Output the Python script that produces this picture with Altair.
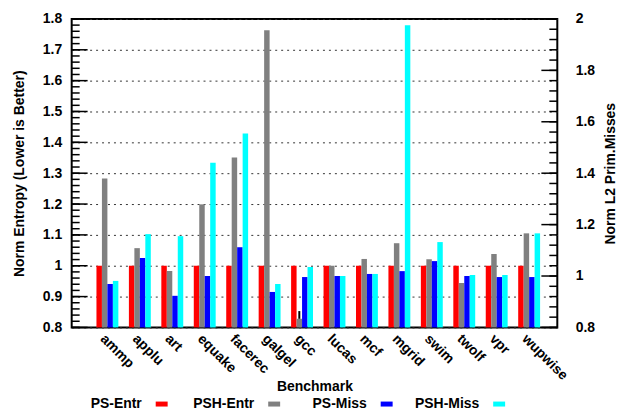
import altair as alt
import pandas as pd

benchmarks = ["ammp", "applu", "art", "equake", "facerec", "galgel", "gcc",
              "lucas", "mcf", "mgrid", "swim", "twolf", "vpr", "wupwise"]
series = ["PS-Entr", "PSH-Entr", "PS-Miss", "PSH-Miss"]
colors = ["#ff0000", "#808080", "#0000ff", "#00ffff"]

ps_entr = [1.0, 1.0, 1.0, 1.0, 1.0, 1.0, 1.0, 1.0, 1.0, 1.0, 1.0, 1.0, 1.0, 1.0]
psh_entr = [1.283, 1.057, 0.983, 1.199, 1.351, 1.763, 0.828, 1.0, 1.022, 1.073, 1.021, 0.944, 1.038, 1.105]
ps_miss = [0.969, 1.070, 0.923, 1.0, 1.112, 0.938, 0.996, 1.0, 1.008, 1.019, 1.058, 1.0, 0.996, 0.996]
psh_miss = [0.981, 1.163, 1.155, 1.441, 1.554, 0.969, 1.035, 1.0, 1.008, 1.975, 1.132, 1.004, 1.004, 1.166]

# small black mark on top of gcc's PSH-Entr bar
gcc_mark = [0.828, 0.853]

left_domain = [0.8, 1.8]
right_domain = [0.8, 2.0]
left_major = [0.8, 0.9, 1.0, 1.1, 1.2, 1.3, 1.4, 1.5, 1.6, 1.7, 1.8]
left_minor = [round(0.8 + 0.02 * i, 2) for i in range(51)]
right_major = [0.8, 1.0, 1.2, 1.4, 1.6, 1.8, 2.0]
right_minor = [round(0.8 + 0.04 * i, 2) for i in range(31)]

FONT = "Liberation Sans"
W, H = 488, 310

rows = []
for i, b in enumerate(benchmarks):
    rows.append({"benchmark": b, "series": "PS-Entr", "value": ps_entr[i], "kind": "entr"})
    rows.append({"benchmark": b, "series": "PSH-Entr", "value": psh_entr[i], "kind": "entr"})
    rows.append({"benchmark": b, "series": "PS-Miss", "value": ps_miss[i], "kind": "miss"})
    rows.append({"benchmark": b, "series": "PSH-Miss", "value": psh_miss[i], "kind": "miss"})
df = pd.DataFrame(rows)
entr = df[df.kind == "entr"]
miss = df[df.kind == "miss"]

x_enc = alt.X("benchmark:N", sort=benchmarks,
              scale=alt.Scale(domain=benchmarks, paddingInner=0.325, paddingOuter=0.647, align=0.59),
              axis=alt.Axis(title="Benchmark", labelAngle=45, labelAlign="left", labelBaseline="top",
                            labelPadding=4, ticks=False, domain=False, labelFontSize=14,
                            labelFontWeight="bold", labelFont=FONT, labelColor="black",
                            titleFontSize=14, titleFont=FONT, titleFontWeight="bold",
                            titleColor="black", titleY=52, titleBaseline="top"))
xoff = alt.XOffset("series:N", sort=series,
                   scale=alt.Scale(domain=series, paddingInner=0, paddingOuter=0))
color = alt.Color("series:N", scale=alt.Scale(domain=series, range=colors), legend=None)


def lscale():
    return alt.Scale(domain=left_domain, zero=False, nice=False, clamp=True)


def rscale():
    return alt.Scale(domain=right_domain, zero=False, nice=False, clamp=True)


entr_bars = alt.Chart(entr).mark_bar(opacity=1).encode(
    x=x_enc, xOffset=xoff, color=color,
    y=alt.Y("value:Q", scale=lscale(),
            axis=alt.Axis(orient="left", values=left_major, format="~g", ticks=False,
                          domain=False, labelPadding=10, labelFontSize=14, labelFont=FONT,
                          labelFontWeight="bold", labelColor="black",
                          title="Norm Entropy (Lower is Better)", titleFontSize=14,
                          titleFont=FONT, titleFontWeight="bold", titleColor="black",
                          titlePadding=16, grid=True, gridDash=[2, 4], gridColor="#333333",
                          gridWidth=1)),
    y2=alt.datum(0.8),
)

gcc_df = pd.DataFrame({"benchmark": ["gcc"], "series": ["PSH-Entr"],
                       "lo": [gcc_mark[0]], "hi": [gcc_mark[1]]})
gcc_rule = alt.Chart(gcc_df).mark_rule(color="black", strokeWidth=2).encode(
    x=alt.X("benchmark:N", sort=benchmarks), xOffset=alt.XOffset("series:N", sort=series),
    y=alt.Y("lo:Q", scale=lscale(), axis=None),
    y2="hi:Q",
)

miss_bars = alt.Chart(miss).mark_bar(opacity=1).encode(
    x=x_enc, xOffset=xoff, color=color,
    y=alt.Y("value:Q", scale=rscale(),
            axis=alt.Axis(orient="right", values=right_major, format="~g", ticks=False,
                          domain=False, labelPadding=18, labelFontSize=14, labelFont=FONT,
                          labelFontWeight="bold", labelColor="black",
                          title="Norm L2 Prim.Misses", titleFontSize=14, titleFont=FONT,
                          titleFontWeight="bold", titleColor="black", titlePadding=9,
                          titleAngle=270, titleBaseline="top", grid=False)),
    y2=alt.datum(0.8),
)


def tick_layer(values, scale, x0, x1):
    return alt.Chart(pd.DataFrame({"v": values})).mark_rule(
        color="black", strokeWidth=1.5).encode(
        y=alt.Y("v:Q", scale=scale, axis=None),
        x=alt.value(x0), x2=alt.value(x1),
    )


main = alt.layer(
    entr_bars, miss_bars, gcc_rule,
    tick_layer(left_minor, lscale(), 0, 8),
    tick_layer(left_major, lscale(), 0, 16),
    tick_layer(right_minor, rscale(), W - 8, W),
    tick_layer(right_major, rscale(), W - 16, W),
).resolve_scale(y="independent").properties(
    width=W, height=H,
    view=alt.ViewBackground(stroke="black", strokeWidth=2),
)

legend_df = pd.DataFrame({"series": series})
lbase = alt.Chart(legend_df).encode(
    x=alt.X("series:N", sort=series, scale=alt.Scale(type="point", padding=0.8, domain=series),
            axis=None),
    y=alt.value(10),
)
ltext = lbase.mark_text(align="right", baseline="middle", dx=-20, fontSize=14,
                        fontWeight="bold", font=FONT, color="black").encode(text="series:N")
lswatch = lbase.mark_point(shape="M-1.2,-0.5H1.2V0.5H-1.2Z", size=100, filled=True,
                           opacity=1, strokeWidth=0).encode(
    color=alt.Color("series:N", scale=alt.Scale(domain=series, range=colors), legend=None))
legend = alt.layer(ltext, lswatch).properties(
    width=520, height=20,
    view=alt.ViewBackground(stroke="transparent", strokeOpacity=0),
)

chart = alt.vconcat(main, legend, spacing=0).resolve_scale(
    color="independent", x="independent").properties(
    padding={"left": 3, "top": 2, "right": 0, "bottom": 0},
)

chart.save("out.html", embed_options={"renderer": "svg", "actions": False})
